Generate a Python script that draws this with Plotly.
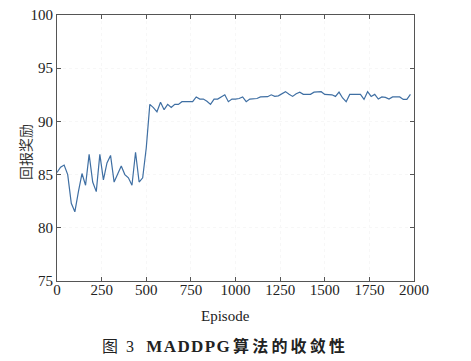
import plotly.graph_objects as go

episodes = [i * 20 for i in range(100)]
reward = [
    85.2, 85.7, 85.9, 85.0, 82.3, 81.5, 83.4, 85.1, 84.0, 86.9,
    84.3, 83.4, 86.9, 84.5, 86.1, 86.8, 84.3, 85.1, 85.8, 85.0,
    84.7, 84.0, 87.1, 84.3, 84.7, 87.5, 91.6, 91.3, 90.9, 91.8,
    91.1, 91.6, 91.3, 91.6, 91.6, 91.85, 91.85, 91.85, 91.85, 92.3,
    92.1, 92.1, 91.9, 91.6, 92.1, 92.1, 92.3, 92.5, 91.85, 92.1,
    92.1, 92.15, 92.3, 91.85, 92.1, 92.1, 92.15, 92.3, 92.3, 92.32,
    92.5, 92.35, 92.4, 92.6, 92.8, 92.55, 92.35, 92.6, 92.75, 92.54,
    92.54, 92.54, 92.75, 92.79, 92.79, 92.54, 92.54, 92.5, 92.35, 92.75,
    92.2, 91.85, 92.54, 92.54, 92.54, 92.54, 92.07, 92.79, 92.35, 92.54,
    92.1, 92.3, 92.26, 92.1, 92.3, 92.32, 92.3, 92.07, 92.07, 92.54,
]
x_ticks = [0, 250, 500, 750, 1000, 1250, 1500, 1750, 2000]
y_ticks = [75, 80, 85, 90, 95, 100]

fig = go.Figure()
fig.add_trace(go.Scatter(
    x=episodes, y=reward, mode="lines",
    line=dict(color="#3f6fa3", width=1.2),
    showlegend=False,
))

serif = "Liberation Serif, Times New Roman, serif"
axis_common = dict(
    showline=True, linecolor="#555555", linewidth=1, mirror="ticks",
    ticks="inside", ticklen=4, tickcolor="#555555",
    showgrid=True, gridcolor="#f7f7f7", gridwidth=1, griddash="dot",
    zeroline=False, automargin=False,
    tickfont=dict(family=serif, size=15, color="#222222"),
)

fig.update_xaxes(
    range=[0, 2000], tickvals=x_ticks, ticktext=[str(v) for v in x_ticks],
    ticklabelstandoff=-5,
    **axis_common,
)
fig.update_yaxes(
    range=[75, 100], tickvals=y_ticks, ticktext=[str(v) for v in y_ticks],
    **axis_common,
)

fig.add_annotation(
    text="Episode", xref="paper", yref="paper",
    x=(225 - 57) / 357, y=(281 - 316) / 266, xanchor="center", yanchor="middle",
    showarrow=False, font=dict(family=serif, size=15, color="#222222"),
)
fig.add_annotation(
    text="回报奖励", xref="paper", yref="paper", textangle=-90,
    x=(25 - 57) / 357, y=(281 - 152) / 266, xanchor="center", yanchor="middle",
    showarrow=False, font=dict(family="Noto Sans CJK SC", size=14, color="#333333"),
)

hsp = "\u200a"
sp = "\u2009"
caption = (
    "图\u2002<span style='font-family:Liberation Serif'>3</span>\u2002\u2009\u200a"
    "<b><span style='font-family:Liberation Serif;font-size:17px'>" + hsp.join("MADDPG") + "</span>"
    + sp + sp.join("算法的收敛性") + "</b>"
)
fig.add_annotation(
    text=caption, xref="paper", yref="paper",
    x=(100 - 57) / 357, y=(281 - 344.5) / 266, xanchor="left", yanchor="middle",
    showarrow=False, font=dict(family="Noto Sans CJK SC", size=16, color="#222222"),
)

fig.update_layout(
    width=471, height=361,
    margin=dict(l=57, r=57, t=15, b=80),
    paper_bgcolor="white", plot_bgcolor="white",
)

fig.write_html(
    "out.html",
    config={"displayModeBar": False},
    post_script="document.body.style.margin='0';",
)
